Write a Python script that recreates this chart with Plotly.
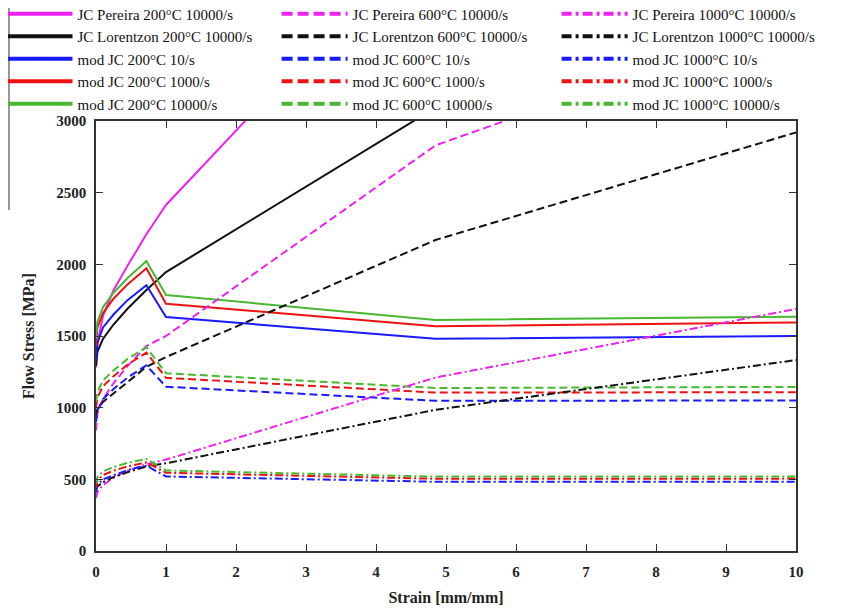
import plotly.graph_objects as go

strain = [0, 0.02, 0.1, 0.25, 0.45, 0.72, 1.0, 4.85, 10]

# JC literature curves (values above 3000 are clipped by the axis range)
jc_pereira_200 = [1280, 1450, 1640, 1820, 1990, 2210, 2414, 4410, 7080]
jc_pereira_600 = [840, 960, 1060, 1170, 1290, 1430, 1500, 2830, 3716]
jc_pereira_1000 = [370, 410, 460, 510, 560, 605, 638, 1210, 1688]
jc_lorentzon_200 = [1290, 1390, 1480, 1580, 1690, 1821, 1946, 3093, 4500]
jc_lorentzon_600 = [950, 990, 1040, 1100, 1180, 1285, 1353, 2170, 2920]
jc_lorentzon_1000 = [426, 450, 480, 515, 550, 590, 612, 985, 1332]

# modified JC
mod_200_10 = [1330, 1450, 1560, 1650, 1750, 1855, 1632, 1480, 1500]
mod_200_1000 = [1430, 1560, 1660, 1760, 1860, 1972, 1725, 1568, 1595]
mod_200_10000 = [1480, 1600, 1700, 1800, 1905, 2022, 1786, 1612, 1635]
mod_600_10 = [900, 980, 1060, 1130, 1210, 1295, 1146, 1048, 1050]
mod_600_1000 = [1000, 1070, 1150, 1220, 1300, 1384, 1208, 1105, 1108]
mod_600_10000 = [1040, 1110, 1190, 1260, 1340, 1421, 1240, 1137, 1145]
mod_1000_10 = [410, 460, 500, 530, 565, 595, 520, 483, 483]
mod_1000_1000 = [440, 490, 530, 560, 590, 618, 546, 504, 505]
mod_1000_10000 = [470, 515, 555, 585, 615, 642, 562, 519, 520]

MAG = "#ee22ee"
BLK = "#111111"
BLU = "#1a1aff"
RED = "#ee1111"
GRN = "#48b830"

# line styles: (plot dash, legend dash)
STYLE = {
    "solid": ("solid", "solid"),
    "dash": ("8px,4px", "11px,5px"),
    "dashdot": ("8px,3px,2px,3px", "10px,4px,3px,4px"),
}

# (name, values, colour, style, legend column)
series = [
    ("JC Pereira 200°C 10000/s", jc_pereira_200, MAG, "solid", "legend"),
    ("JC Lorentzon 200°C 10000/s", jc_lorentzon_200, BLK, "solid", "legend"),
    ("mod JC 200°C 10/s", mod_200_10, BLU, "solid", "legend"),
    ("mod JC 200°C 1000/s", mod_200_1000, RED, "solid", "legend"),
    ("mod JC 200°C 10000/s", mod_200_10000, GRN, "solid", "legend"),
    ("JC Pereira 600°C 10000/s", jc_pereira_600, MAG, "dash", "legend2"),
    ("JC Lorentzon 600°C 10000/s", jc_lorentzon_600, BLK, "dash", "legend2"),
    ("mod JC 600°C 10/s", mod_600_10, BLU, "dash", "legend2"),
    ("mod JC 600°C 1000/s", mod_600_1000, RED, "dash", "legend2"),
    ("mod JC 600°C 10000/s", mod_600_10000, GRN, "dash", "legend2"),
    ("JC Pereira 1000°C 10000/s", jc_pereira_1000, MAG, "dashdot", "legend3"),
    ("JC Lorentzon 1000°C 10000/s", jc_lorentzon_1000, BLK, "dashdot", "legend3"),
    ("mod JC 1000°C 10/s", mod_1000_10, BLU, "dashdot", "legend3"),
    ("mod JC 1000°C 1000/s", mod_1000_1000, RED, "dashdot", "legend3"),
    ("mod JC 1000°C 10000/s", mod_1000_10000, GRN, "dashdot", "legend3"),
]

fig = go.Figure()
for name, vals, col, sty, leg in series:
    plot_dash, leg_dash = STYLE[sty]
    fig.add_trace(go.Scatter(
        x=strain, y=vals, mode="lines", name=name, showlegend=False,
        legendgroup=name, line=dict(color=col, width=2, dash=plot_dash),
    ))
    # thicker legend sample, linked to the plotted curve
    fig.add_trace(go.Scatter(
        x=[None], y=[None], mode="lines", name=name, legend=leg,
        legendgroup=name, line=dict(color=col, width=4, dash=leg_dash),
    ))

FONT = "Liberation Serif"
axis_common = dict(
    showline=True, linecolor="#333", linewidth=1.5, mirror="ticks",
    ticks="inside", ticklen=7, tickcolor="#333", showgrid=False, zeroline=False,
    tickfont=dict(family=FONT, size=15, color="#222", weight="bold"),
)
fig.update_xaxes(range=[0, 10], dtick=1, ticklabelstandoff=6, **axis_common,
                 title=dict(text="Strain [mm/mm]", font=dict(family=FONT, size=16, color="#222", weight="bold"), standoff=13))
fig.update_yaxes(range=[0, 3000], dtick=500, ticklabelstandoff=5, **axis_common,
                 title=dict(text="Flow Stress [MPa]", font=dict(family=FONT, size=16, color="#222", weight="bold"), standoff=18))

leg_common = dict(
    orientation="v", yanchor="top", xanchor="left", y=1.287,
    itemwidth=66, tracegroupgap=0, traceorder="normal",
    font=dict(family=FONT, size=15, color="#111"),
    bgcolor="rgba(0,0,0,0)", itemclick=False, itemdoubleclick=False,
)

fig.update_layout(
    width=842, height=613,
    margin=dict(l=88, r=54, t=113, b=70, autoexpand=False),
    plot_bgcolor="white", paper_bgcolor="white",
    showlegend=True,
    legend=dict(x=-0.135, **leg_common),
    legend2=dict(x=0.258, **leg_common),
    legend3=dict(x=0.658, **leg_common),
    shapes=[dict(type="line", xref="paper", yref="paper",
                 x0=-0.1243, x1=-0.1243, y0=1.2628, y1=0.793,
                 line=dict(color="#333", width=1))],
)

fig.write_html("out.html")
